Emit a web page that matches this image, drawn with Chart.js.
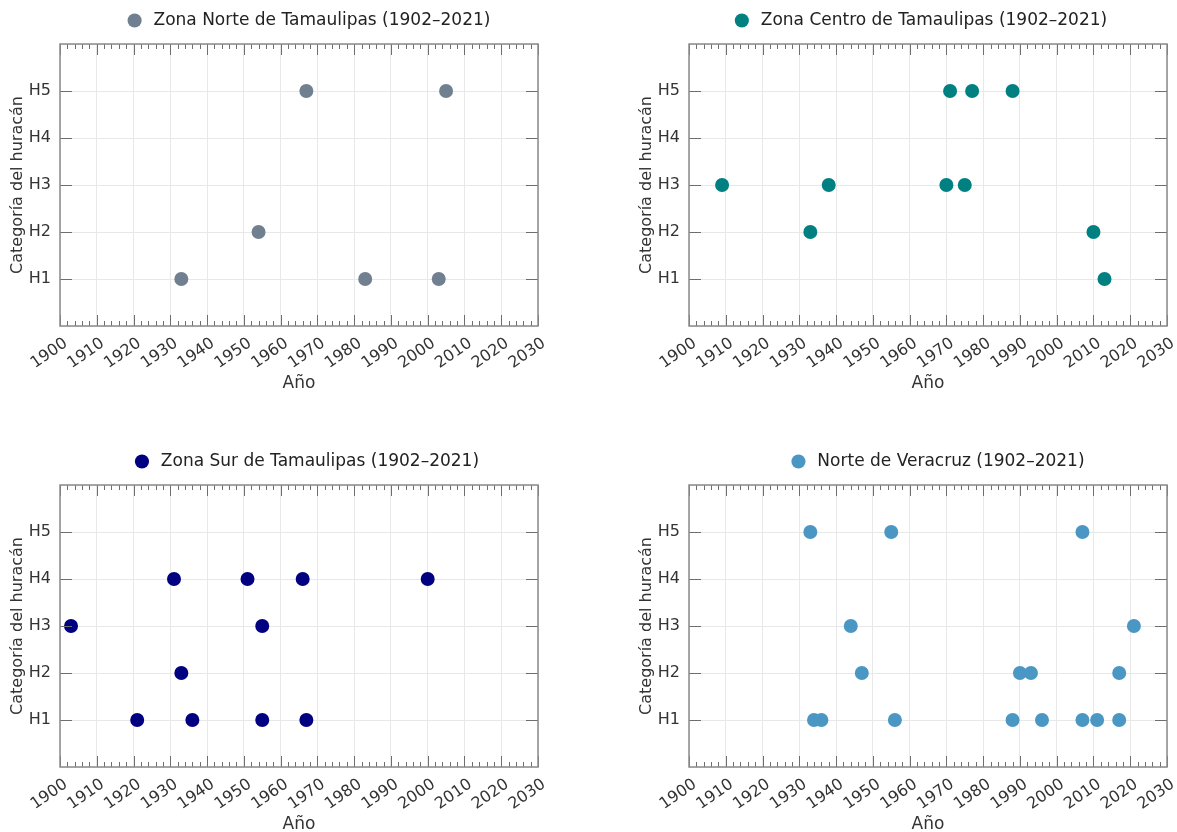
<!DOCTYPE html>
<html>
<head>
<meta charset="utf-8">
<script src="https://cdn.jsdelivr.net/npm/chart.js"></script>
<style>
body{margin:0;background:#fff;width:1177px;height:832px;position:relative;overflow:hidden}
.caja{position:absolute;height:394px}
</style>
</head>
<body>
<div class="caja" style="left:0;top:0;width:620px"><canvas id="norte_chart"></canvas></div>
<div class="caja" style="left:629px;top:0;width:586px"><canvas id="centro_chart"></canvas></div>
<div class="caja" style="left:0;top:441px;width:616px"><canvas id="sur_chart"></canvas></div>
<div class="caja" style="left:629px;top:441px;width:620px"><canvas id="veracruz_chart"></canvas></div>
<script>
let categorias = ["H1", "H2", "H3", "H4", "H5"];
let aniosEje = [1900, 1910, 1920, 1930, 1940, 1950, 1960, 1970, 1980, 1990, 2000, 2010, 2020, 2030];

// Zona Norte de Tamaulipas
let norteAnio = [1933, 1954, 1967, 1983, 2003, 2005];
let norteCat  = [1, 2, 5, 1, 1, 5];

// Zona Centro de Tamaulipas
let centroAnio = [1909, 1933, 1938, 1970, 1971, 1975, 1977, 1988, 2010, 2013];
let centroCat  = [3, 2, 3, 3, 5, 3, 5, 5, 2, 1];

// Zona Sur de Tamaulipas
let surAnio = [1903, 1921, 1931, 1933, 1936, 1951, 1955, 1955, 1966, 1967, 2000];
let surCat  = [3, 1, 4, 2, 1, 4, 3, 1, 4, 1, 4];

// Norte de Veracruz
let veracruzAnio = [1933, 1934, 1936, 1944, 1947, 1955, 1956, 1988, 1990, 1993, 1996, 2007, 2007, 2011, 2017, 2017, 2021];
let veracruzCat  = [5, 1, 1, 3, 2, 5, 1, 1, 2, 2, 1, 5, 1, 1, 1, 2, 3];

Chart.defaults.font.family = "'DejaVu Sans', sans-serif";

// marco completo con ticks hacia adentro (arriba/abajo y izq/der)
const marcoPlugin = {
    id: "marco",
    afterDraw: function(chart){
        let ctx = chart.ctx;
        let a = chart.chartArea;
        let x = chart.scales.x;
        let y = chart.scales.y;
        ctx.save();
        ctx.strokeStyle = "#6e6e6e";
        ctx.lineWidth = 1;
        ctx.beginPath();
        let x0 = aniosEje[0], x1 = aniosEje[aniosEje.length-1];
        for(let yr=x0; yr<=x1; yr+=2){
            let px = Math.round(x.getPixelForValue(yr)) + 0.5;
            let len = (yr % 10 === 0) ? 11 : 5;
            ctx.moveTo(px, a.bottom); ctx.lineTo(px, a.bottom - len);
            ctx.moveTo(px, a.top); ctx.lineTo(px, a.top + len);
        }
        for(let c=1; c<=categorias.length; c++){
            let py = Math.round(y.getPixelForValue(c)) + 0.5;
            ctx.moveTo(a.left, py); ctx.lineTo(a.left + 12, py);
            ctx.moveTo(a.right, py); ctx.lineTo(a.right - 12, py);
        }
        ctx.stroke();
        ctx.strokeStyle = "#8a8a8a";
        ctx.lineWidth = 1.5;
        ctx.strokeRect(a.left, a.top, a.right - a.left, a.bottom - a.top);
        ctx.restore();
    }
};

// ejes vacios solo para dejar espacio (arriba y a la derecha)
function ejeVacio(eje, pos, tam){
    return {
        type: "linear",
        axis: eje,
        position: pos,
        ticks: { display: false },
        grid: { display: false, drawTicks: false },
        border: { display: false },
        afterFit: function(s){
            if(eje === "x") s.height = tam; else s.width = tam;
        }
    };
}

function crearGrafica(id, etiqueta, anios, cats, color, espacioDer){
    let puntos = new Array();
    for(let i=0; i<anios.length; i++){
        puntos.push({x: anios[i], y: cats[i]});
    }
    return new Chart(document.getElementById(id), {
        type: "scatter",
        data: {
            datasets: [{
                label: " " + etiqueta,
                data: puntos,
                backgroundColor: color,
                borderColor: color,
                borderWidth: 0,
                pointRadius: 7,
                pointHoverRadius: 7
            }]
        },
        options: {
            responsive: true,
            maintainAspectRatio: false,
            animation: false,
            layout: { padding: { top: 2, right: 0, bottom: 0, left: 0 } },
            plugins: {
                legend: {
                    labels: {
                        usePointStyle: true,
                        pointStyle: "circle",
                        boxWidth: 10,
                        boxHeight: 10,
                        color: "#222",
                        font: { size: 17 },
                        padding: 10
                    }
                },
                tooltip: { enabled: false }
            },
            scales: {
                x: {
                    type: "linear",
                    min: aniosEje[0],
                    max: aniosEje[aniosEje.length-1],
                    afterBuildTicks: function(s){
                        s.ticks = aniosEje.map(function(v){ return {value: v}; });
                    },
                    ticks: {
                        minRotation: 35,
                        maxRotation: 35,
                        autoSkip: false,
                        padding: 8,
                        labelOffset: 6,
                        color: "#333",
                        font: { size: 16 },
                        callback: function(v){ return String(v); }
                    },
                    grid: { color: "#e8e8e8", drawTicks: false },
                    border: { display: false },
                    title: { display: true, text: "Año", color: "#333", font: { size: 17 }, padding: { top: 4, bottom: 0 } },
                    afterFit: function(s){ s.height = 68; }
                },
                y: {
                    min: 0,
                    max: categorias.length + 1,
                    ticks: {
                        stepSize: 1,
                        padding: 9,
                        color: "#333",
                        font: { size: 16 },
                        callback: function(v){ return categorias[v-1] || ""; }
                    },
                    grid: { color: "#e8e8e8", drawTicks: false },
                    border: { display: false },
                    title: { display: true, text: "Categoría del huracán", color: "#333", font: { size: 16 }, padding: { top: 8, bottom: 4 } },
                    afterFit: function(s){ s.width = 60; }
                },
                xArriba: ejeVacio("x", "top", 5),
                yDer: ejeVacio("y", "right", espacioDer)
            }
        },
        plugins: [marcoPlugin]
    });
}

crearGrafica("norte_chart", "Zona Norte de Tamaulipas (1902–2021)", norteAnio, norteCat, "#708090", 82);
crearGrafica("centro_chart", "Zona Centro de Tamaulipas (1902–2021)", centroAnio, centroCat, "#008080", 48);
crearGrafica("sur_chart", "Zona Sur de Tamaulipas (1902–2021)", surAnio, surCat, "#000080", 78);
crearGrafica("veracruz_chart", "Norte de Veracruz (1902–2021)", veracruzAnio, veracruzCat, "#4b97c4", 82);
</script>
</body>
</html>
